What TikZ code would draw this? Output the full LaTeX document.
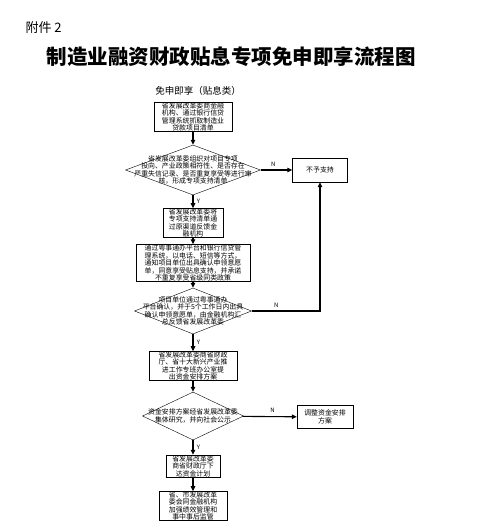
\documentclass[tikz,border=0pt]{standalone}
\usepackage{fontspec}
\setmainfont{Noto Sans CJK SC}
\usepackage{tikz}
\usetikzlibrary{shapes.geometric, arrows.meta}

\begin{document}
\begin{tikzpicture}[x=1pt, y=-1pt,
    box/.style={draw, thin, inner sep=0.3pt, align=center, font=\fontsize{6.9}{5.9}\selectfont},
    decision/.style={draw, thin, diamond, inner sep=0pt},
    txt/.style={align=center, font=\fontsize{6.9}{5.9}\selectfont},
    yn/.style={font=\fontsize{6}{6}\selectfont},
    flow/.style={-{Triangle[length=5pt, width=4.5pt]}, line width=1.1pt}]
    \useasboundingbox (0,0) rectangle (478,532);
    \node[anchor=west, font=\fontsize{13}{13}\selectfont] (att) at (22,28) {附件 2};
    \node[font=\fontsize{20.5}{20.5}\selectfont\bfseries] (title) at (231,57) {制造业融资财政贴息专项免申即享流程图};
    \node[font=\fontsize{9.5}{9.5}\selectfont] (sub) at (198,91) {免申即享（贴息类）};
    % main column
    \node[box, minimum width=78, minimum height=23] (b1) at (193,117)
        {省发展改革委商金融\\机构、通过银行信贷\\管理系统抓取制造业\\贷款项目清单};
    \node[decision, minimum width=135, minimum height=50] (d1) at (193,170) {};
    \node[txt] (d1t) at (d1) {省发展改革委组织对项目专项\\投向、产业政策相符性、是否存在\\严重失信记录、是否重复享受等进行审\\核，形成专项支持清单};
    \node[box, minimum width=60, minimum height=28] (b2) at (193,223)
        {省发展改革委将\\专项支持清单通\\过原渠道反馈金\\融机构};
    \node[box, minimum width=114, minimum height=30] (b3) at (193,263)
        {通过粤事通办平台和银行信贷管\\理系统，以电话、短信等方式，\\通知项目单位出具确认申领意愿\\单，同意享受贴息支持，并承诺\\不重复享受省级同类政策};
    \node[decision, minimum width=117, minimum height=46] (d2) at (193,311) {};
    \node[txt] (d2t) at (d2) {项目单位通过粤事通办\\平台确认，并于5个工作日内出具\\确认申领意愿单，由金融机构汇\\总反馈省发展改革委};
    \node[box, minimum width=88, minimum height=27] (b4) at (193,366)
        {省发展改革委商省财政\\厅、省十大新兴产业推\\进工作专班办公室提\\出资金安排方案};
    \node[decision, minimum width=101, minimum height=48] (d3) at (193,416) {};
    \node[txt] (d3t) at (d3) {资金安排方案经省发展改革委\\集体研究，并向社会公示};
    \node[box, minimum width=54, minimum height=22] (b5) at (193,466)
        {省发展改革委\\商省财政厅下\\达资金计划};
    \node[box, minimum width=68, minimum height=23] (b6) at (193,506)
        {省、市发展改革\\委会同金融机构\\加强绩效管理和\\事中事后监管};
    % side boxes
    \node[box, minimum width=55, minimum height=24] (no) at (320,170) {不予支持};
    \node[box, minimum width=56, minimum height=23] (adj) at (325,417) {调整资金安排\\方案};
    % connectors
    \foreach \a/\b in {b1/d1, b2/b3, b3/d2, b4/d3, b5/b6}
        \draw[flow] (\a) -- (\b);
    \draw[flow] (d1) -- node[yn, above, pos=0.4] {N} (no);
    \draw[flow] (d1) -- node[yn, right] {Y} (b2);
    \draw[flow] (d2) -| node[yn, above, pos=0.18] {N} (no);
    \draw[flow] (d2) -- node[yn, right] {Y} (b4);
    \draw[flow] (d3) -- node[yn, above, pos=0.55] {N} (adj);
    \draw[flow] (d3) -- node[yn, right] {Y} (b5);
\end{tikzpicture}
\end{document}
